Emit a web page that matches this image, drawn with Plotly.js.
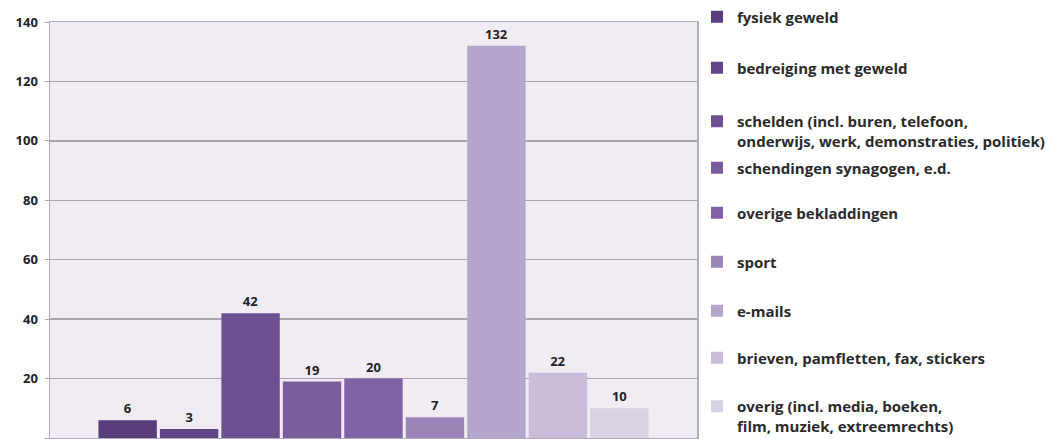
<!DOCTYPE html>
<html>
<head>
<meta charset="utf-8">
<script src="https://cdn.plot.ly/plotly-3.0.1.min.js"></script>
<style>html,body{margin:0;padding:0;background:#fff;}#chart{width:1047px;height:439px;}</style>
</head>
<body>
<div id="chart"></div>
<script>
const categories = [
  "fysiek geweld",
  "bedreiging met geweld",
  "schelden (incl. buren, telefoon,<br>onderwijs, werk, demonstraties, politiek)",
  "schendingen synagogen, e.d.",
  "overige bekladdingen",
  "sport",
  "e-mails",
  "brieven, pamfletten, fax, stickers",
  "overig (incl. media, boeken,<br>film, muziek, extreemrechts)"
];
const values = [6, 3, 42, 19, 20, 7, 132, 22, 10];
const colors = ["#5a3d7c", "#624589", "#6c5091", "#7a5c9c", "#8262a7", "#9c86b9", "#b4a6ca", "#c9bdd9", "#dad3e5"];
const legendCenters = [17, 68, 131, 168, 213, 262, 311, 358, 416];
const yTicks = [0, 20, 40, 60, 80, 100, 120, 140];

const FONT = "Open Sans, DejaVu Sans, sans-serif";
const traces = categories.map((name, i) => ({
  type: "bar",
  name: name,
  x: [""],
  y: [values[i]],
  text: [String(values[i])],
  textposition: "outside",
  cliponaxis: false,
  textfont: {family: FONT, size: 13, color: "#222", weight: 700},
  marker: {color: colors[i]},
  legend: i === 0 ? "legend" : "legend" + (i + 1),
  hoverinfo: "skip"
}));

const layout = {
  width: 1047,
  height: 439,
  margin: {l: 50, r: 350, t: 22, b: 1},
  paper_bgcolor: "#ffffff",
  plot_bgcolor: "#f1ebf4",
  barmode: "group",
  bargap: 0.145,
  bargroupgap: 0.05,
  font: {family: FONT, size: 12, color: "#222"},
  xaxis: {
    showticklabels: false,
    showgrid: false,
    zeroline: false,
    showline: true,
    mirror: true,
    linecolor: "#b3abbd",
    linewidth: 1.5,
    fixedrange: true
  },
  yaxis: {
    range: [0, 140],
    tickvals: yTicks,
    ticktext: yTicks.map(String),
    showgrid: true,
    gridcolor: "#a9a3b0",
    gridwidth: 1.5,
    zeroline: false,
    showline: true,
    mirror: true,
    linecolor: "#b3abbd",
    linewidth: 1.5,
    ticks: "outside",
    ticklen: 4,
    tickcolor: "#a9a3b0",
    ticklabelstandoff: 4,
    tickfont: {family: FONT, size: 13, color: "#222", weight: 700},
    fixedrange: true
  },
  showlegend: true
};

legendCenters.forEach((c, i) => {
  const key = i === 0 ? "legend" : "legend" + (i + 1);
  layout[key] = {
    xref: "container",
    yref: "container",
    x: 697 / 1047,
    xanchor: "left",
    y: 1 - c / 439,
    yanchor: "middle",
    valign: "top",
    bgcolor: "rgba(0,0,0,0)",
    borderwidth: 0,
    itemwidth: 30,
    font: {family: FONT, size: 15, color: "#2a2a2a", weight: 700}
  };
});

Plotly.newPlot("chart", traces, layout, {displayModeBar: false, staticPlot: true});
</script>
</body>
</html>
